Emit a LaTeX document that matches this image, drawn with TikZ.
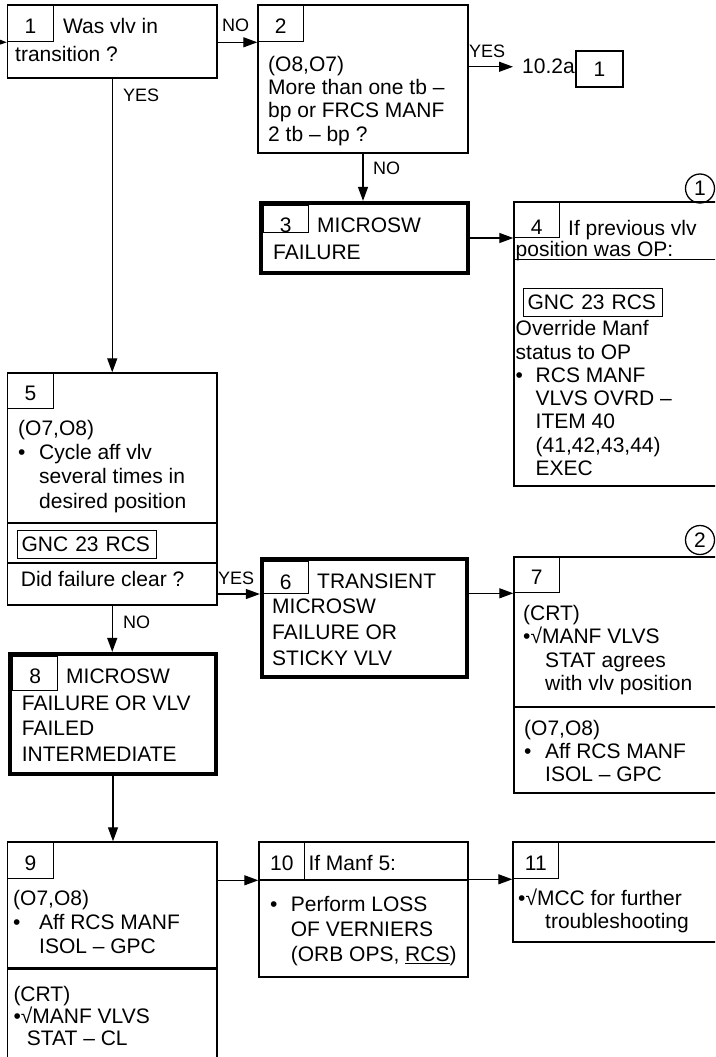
\documentclass[tikz,border=0pt]{standalone}
\usepackage{fontspec}
\setmainfont{Liberation Sans}
\usetikzlibrary{arrows.meta}
\newcommand{\itembul}[1][20pt]{\makebox[#1][l]{•}}
\newcommand{\itemind}[1][20pt]{\hspace*{#1}}
\tikzset{
  stepbox/.style={draw=black, line width=1.4pt, inner sep=0pt},
  failbox/.style={draw=black, line width=4.3pt, inner sep=0pt},
  numbox/.style={
    draw=black,
    line width=1pt,
    anchor=north west,
    inner sep=0pt,
    text height=20pt,
    text depth=0pt
  },
  gncbox/.style={
    draw=black,
    line width=1.3pt,
    anchor=north west,
    inner xsep=4pt,
    inner ysep=2pt,
    text height=19pt,
    text depth=5pt,
    text width=131pt
  },
  marker/.style={draw=black, line width=1.3pt, circle, minimum size=29pt, inner sep=0pt},
  txt/.style={anchor=base west, inner sep=0pt, align=left},
  pitch/.style={font=\fontsize{21pt}{#1}\selectfont},
  lbl/.style={anchor=base west, inner sep=0pt, font=\fontsize{18pt}{20pt}\selectfont},
  rule/.style={draw=black, line width=1.4pt},
  flow/.style={draw=black, line width=1.3pt, -{Triangle[length=14pt,width=10pt]}}
}

\begin{document}
\begin{tikzpicture}[x=1pt, y=-1pt, every node/.style={font=\fontsize{21pt}{23.3pt}\selectfont}]
  \useasboundingbox (0,0) rectangle (715,1057);
  \clip (0,0) rectangle (715,1057);

  % Top row: steps 1 and 2 (multi-line texts sit on their last baseline)
  \node[stepbox, minimum width=209.5pt, minimum height=73pt] (box1) at (112.25,41.5) {};
  \node[numbox, minimum width=46.5pt, minimum height=37pt] (num1) at (box1.north west) {1};
  \node[txt] (hdr1) at (63,33.5) {Was vlv in};
  \node[txt] (txt1) at (15,62) {transition ?};

  \node[stepbox, minimum width=210pt, minimum height=148pt] (box2) at (363,79) {};
  \node[numbox, minimum width=46pt, minimum height=37pt] (num2) at (box2.north west) {2};
  \node[txt] (txt2) at (268,141) {(O8,O7)\\More than one tb –\\bp or FRCS MANF\\2 tb – bp ?};

  \node[txt] (goto) at (522,74) {10.2a};
  \node[stepbox, minimum width=47pt, minimum height=36pt] (gotonum) at (599.5,69) {1};

  % Steps 3 and 4
  \node[failbox, minimum width=207pt, minimum height=70pt] (box3) at (364.5,238) {};
  \node[numbox, minimum width=45.5pt, minimum height=27.5pt, text height=27.5pt] (num3) at (262.5,204.5) {3};
  \node[txt] (hdr3) at (317,232.3) {MICROSW};
  \node[txt] (txt3) at (273,259) {FAILURE};

  \node[marker] (mark1) at (700,188.5) {1};
  \node[stepbox, minimum width=256pt, minimum height=284pt] (box4) at (642,344) {};
  \node[numbox, minimum width=46pt, minimum height=36pt, text height=29pt] (num4) at (box4.north west) {4};
  \node[txt] (hdr4) at (568,235) {If previous vlv};
  \node[txt] (txt4a) at (515.5,256) {position was OP:};
  \draw[rule] (514,259.5) -- (770,259.5);
  \node[gncbox] (gnc4) at (523,288) {GNC 23 RCS};
  \node[txt] (txt4) at (515.5,475.5) {Override Manf\\status to OP\\\itembul RCS MANF\\\itemind VLVS OVRD –\\\itemind ITEM 40\\\itemind (41,42,43,44)\\\itemind EXEC};

  % Step 5
  \node[stepbox, minimum width=209.5pt, minimum height=232pt] (box5) at (112.25,489) {};
  \node[numbox, minimum width=46.5pt, minimum height=36pt] (num5) at (box5.north west) {5};
  \node[txt, pitch=24.3pt] (txt5a) at (18,508) {(O7,O8)\\\itembul[21pt]Cycle aff vlv\\\itemind[21pt]several times in\\\itemind[21pt]desired position};
  \draw[rule] (7.5,523) -- (217,523);
  \node[gncbox] (gnc5) at (17,530) {GNC 23 RCS};
  \draw[rule] (7.5,563) -- (217,563);
  \node[txt] (txt5b) at (20.7,586.7) {Did failure clear ?};

  % Steps 6 and 7
  \node[failbox, minimum width=205pt, minimum height=118pt] (box6) at (364.5,618) {};
  \node[numbox, minimum width=45.5pt, minimum height=32pt, text height=23.5pt] (num6) at (262.5,561) {6};
  \node[txt] (hdr6) at (317,588) {TRANSIENT};
  \node[txt, pitch=25.8pt] (txt6) at (272,665) {MICROSW\\FAILURE OR\\STICKY VLV};

  \node[marker] (mark2) at (700,540) {2};
  \node[stepbox, minimum width=256pt, minimum height=236pt] (box7) at (642,675) {};
  \node[numbox, minimum width=46pt, minimum height=36pt] (num7) at (box7.north west) {7};
  \node[txt, pitch=23.5pt] (txt7a) at (523,690.5) {(CRT)\\•√MANF VLVS\\\itemind[22pt]STAT agrees\\\itemind[22pt]with vlv position};
  \draw[rule] (514,707) -- (770,707);
  \node[txt] (txt7b) at (524,781.6) {(O7,O8)\\\itembul[21pt]Aff RCS MANF\\\itemind[21pt]ISOL – GPC};

  % Step 8
  \node[failbox, minimum width=206pt, minimum height=120pt] (box8) at (113,714) {};
  \node[numbox, minimum width=44.7pt, minimum height=33.7pt] (num8) at (12.3,656.3) {8};
  \node[txt] (hdr8) at (66,683.5) {MICROSW};
  \node[txt, pitch=25.8pt] (txt8) at (21.7,761.6) {FAILURE OR VLV\\FAILED\\INTERMEDIATE};

  % Bottom row: steps 9, 10 and 11
  \node[stepbox, minimum width=209.5pt, minimum height=238pt] (box9) at (112.25,961) {};
  \node[numbox, minimum width=46.5pt, minimum height=37pt] (num9) at (box9.north west) {9};
  \node[txt, pitch=24pt] (txt9a) at (13,953) {(O7,O8)\\\itembul[26pt]Aff RCS MANF\\\itemind[26pt]ISOL – GPC};
  \draw[rule, line width=3pt] (7.5,968) -- (217,968);
  \node[txt, pitch=21.7pt] (txt9b) at (13.3,1045.1) {(CRT)\\•√MANF VLVS\\\itemind[13.4pt]STAT – CL};

  \node[stepbox, minimum width=209pt, minimum height=135pt] (box10) at (363.5,909.5) {};
  \node[numbox, minimum width=46pt, minimum height=38pt] (num10) at (box10.north west) {10};
  \node[txt] (hdr10) at (308.3,870.7) {If Manf 5:};
  \draw[rule] (259,880) -- (468,880);
  \node[txt, pitch=25pt] (txt10) at (270,961.7) {\itembul[20.7pt]Perform LOSS\\\itemind[20.7pt]OF VERNIERS\\\itemind[20.7pt](ORB OPS, \underline{RCS})};

  \node[stepbox, minimum width=257pt, minimum height=100pt] (box11) at (641.5,892) {};
  \node[numbox, minimum width=46pt, minimum height=37pt] (num11) at (box11.north west) {11};
  \node[txt] (txt11) at (518,928.3) {•√MCC for further\\\itemind[27pt]troubleshooting};

  % Connectors and answers
  \coordinate (entry) at (-10,42);
  \draw[flow] (entry) -- (num1.south west);
  \draw[flow] (box1.east |- num1.south) -- (num2.south west);
  \node[lbl] (no1) at (222,32) {NO};
  \draw[flow] (box1.south) -- (box5.north);
  \node[lbl] (yes1) at (123,101) {YES};
  \draw[flow] (box2.south) -- (box2.south |- box3.north);
  \node[lbl] (no2) at (373,174) {NO};
  \draw[flow, shorten >=9pt] (box2.east |- goto.west) -- (goto.west);
  \node[lbl] (yes2) at (469,57) {YES};
  \draw[flow] (box3.east) -- (box3.east -| box4.west);
  \draw[flow] (box5.east |- num6.south) -- (box6.west |- num6.south);
  \node[lbl] (yes5) at (218,584) {YES};
  \draw[flow] (box5.south) -- (box5.south |- box8.north);
  \node[lbl] (no5) at (123,628) {NO};
  \draw[flow] (box6.east |- num7.south) -- (num7.south west);
  \draw[flow] (box8.south) -- (box8.south |- box9.north);
  \draw[flow] (box9.east |- num10.south) -- (num10.south west);
  \draw[flow] (box10.east |- num11.south) -- (num11.south west);
\end{tikzpicture}
\end{document}
